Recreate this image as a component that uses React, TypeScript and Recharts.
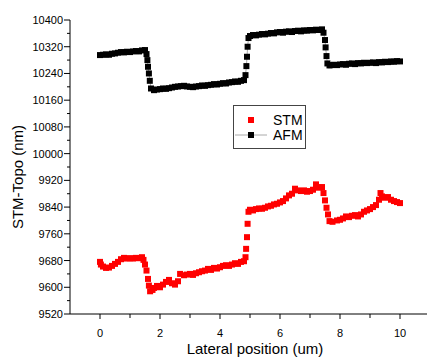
import { ScatterChart, Scatter, XAxis, YAxis } from "recharts";

const stmX = [0, 0.03, 0.1, 0.2, 0.3, 0.4, 0.5, 0.6, 0.7, 0.8, 0.9, 1.0, 1.1, 1.2, 1.3, 1.4, 1.45, 1.5, 1.55, 1.6, 1.63, 1.67, 1.75, 1.8, 1.9, 2.0, 2.1, 2.2, 2.3, 2.4, 2.5, 2.6, 2.67, 2.8, 2.9, 3.0, 3.1, 3.2, 3.3, 3.4, 3.5, 3.6, 3.7, 3.8, 3.9, 4.0, 4.1, 4.2, 4.3, 4.4, 4.5, 4.6, 4.7, 4.8, 4.85, 4.87, 4.9, 4.92, 4.95, 5.0, 5.1, 5.2, 5.3, 5.4, 5.5, 5.6, 5.7, 5.8, 5.9, 6.0, 6.1, 6.2, 6.3, 6.4, 6.5, 6.6, 6.7, 6.8, 6.9, 7.0, 7.1, 7.2, 7.3, 7.4, 7.45, 7.5, 7.55, 7.6, 7.65, 7.75, 7.9, 8.0, 8.1, 8.2, 8.3, 8.4, 8.5, 8.6, 8.7, 8.8, 8.9, 9.0, 9.1, 9.2, 9.3, 9.35, 9.4, 9.5, 9.6, 9.7, 9.8, 9.9, 10.0];
const stmY = [9676, 9668, 9662, 9658, 9659, 9664, 9670, 9676, 9684, 9688, 9686, 9687, 9686, 9688, 9687, 9690, 9682, 9668, 9650, 9625, 9605, 9588, 9592, 9598, 9604, 9600, 9608, 9616, 9622, 9612, 9608, 9618, 9640, 9636, 9638, 9640, 9637, 9642, 9645, 9648, 9650, 9655, 9652, 9658, 9656, 9660, 9664, 9666, 9664, 9668, 9672, 9670, 9676, 9678, 9690, 9715, 9750, 9790, 9826, 9832, 9830, 9834, 9836, 9835, 9838, 9842, 9844, 9848, 9850, 9854, 9858, 9866, 9875, 9880, 9895, 9890, 9888, 9890, 9886, 9888, 9892, 9908, 9898, 9900, 9882, 9860, 9838, 9818, 9798, 9796, 9800, 9802, 9806, 9812, 9810, 9814, 9816, 9812, 9818, 9826, 9830, 9834, 9840, 9846, 9862, 9882, 9872, 9868, 9870, 9862, 9858, 9855, 9852];

const afmX = [0, 0.1, 0.2, 0.3, 0.4, 0.5, 0.6, 0.7, 0.8, 0.9, 1.0, 1.1, 1.2, 1.3, 1.4, 1.5, 1.55, 1.58, 1.6, 1.63, 1.66, 1.7, 1.8, 1.9, 2.0, 2.1, 2.2, 2.3, 2.4, 2.5, 2.6, 2.7, 2.8, 2.9, 3.0, 3.1, 3.2, 3.3, 3.4, 3.5, 3.6, 3.7, 3.8, 3.9, 4.0, 4.1, 4.2, 4.3, 4.4, 4.5, 4.6, 4.7, 4.8, 4.85, 4.88, 4.9, 4.92, 4.95, 5.0, 5.1, 5.2, 5.3, 5.4, 5.5, 5.6, 5.7, 5.8, 5.9, 6.0, 6.1, 6.2, 6.3, 6.4, 6.5, 6.6, 6.7, 6.8, 6.9, 7.0, 7.1, 7.2, 7.3, 7.4, 7.45, 7.5, 7.52, 7.55, 7.58, 7.65, 7.7, 7.8, 7.9, 8.0, 8.1, 8.2, 8.3, 8.4, 8.5, 8.6, 8.7, 8.8, 8.9, 9.0, 9.1, 9.2, 9.3, 9.4, 9.5, 9.6, 9.7, 9.8, 9.9, 10.0];
const afmY = [10295, 10296, 10297, 10296, 10299, 10300, 10302, 10304, 10303, 10305, 10304, 10306, 10307, 10306, 10309, 10310, 10298, 10280, 10260, 10240, 10218, 10195, 10190, 10192, 10193, 10195, 10194, 10196, 10198, 10200, 10201, 10202, 10203, 10201, 10200, 10199, 10201, 10202, 10204, 10203, 10205, 10206, 10208, 10207, 10209, 10211, 10210, 10213, 10214, 10216, 10215, 10218, 10220, 10235, 10262, 10290, 10320, 10346, 10352, 10355, 10354, 10356, 10358, 10357, 10359, 10361, 10360, 10363, 10364, 10362, 10365, 10366, 10364, 10367, 10368, 10366, 10369, 10368, 10370, 10369, 10371, 10370, 10372, 10362, 10340, 10318, 10292, 10270, 10264, 10265, 10266, 10265, 10267, 10268, 10266, 10269, 10270, 10268, 10271, 10270, 10272, 10271, 10272, 10273, 10271, 10274, 10273, 10275, 10274, 10276, 10275, 10277, 10276];

const xTicks = [0, 1, 2, 3, 4, 5, 6, 7, 8, 9, 10];
const yTicks = [9520, 9560, 9600, 9640, 9680, 9720, 9760, 9800, 9840, 9880, 9920, 9960, 10000, 10040, 10080, 10120, 10160, 10200, 10240, 10280, 10320, 10360, 10400];

const stmData = stmX.map((x, i) => ({ x, y: stmY[i] }));
const afmData = afmX.map((x, i) => ({ x, y: afmY[i] }));

const font = "'Liberation Sans', Arial, sans-serif";

const square = (color: string) => (p: any) => (
  <rect x={p.cx - 3} y={p.cy - 3} width={6} height={6} fill={color} />
);

const XTick = (p: any) => {
  const v = p.payload.value;
  const major = v % 2 === 0;
  return (
    <g>
      <line x1={p.x} x2={p.x} y1={p.y} y2={p.y + (major ? 5 : 4)} stroke="#000" />
      {major && (
        <text x={p.x} y={p.y + 23} textAnchor="middle" fontSize={11} fontFamily={font} fill="#000">{v}</text>
      )}
    </g>
  );
};

const YTick = (p: any) => {
  const v = p.payload.value;
  const major = (v - 9520) % 80 === 0;
  return (
    <g>
      <line x1={p.x - (major ? 6 : 3)} x2={p.x} y1={p.y} y2={p.y} stroke="#000" />
      {major && (
        <text x={p.x - 7} y={p.y + 4} textAnchor="end" fontSize={11} fontFamily={font} fill="#000">{v}</text>
      )}
    </g>
  );
};

// legend drawn as an overlay so it doesn't shrink the plot area
const LegendBox = () => (
  <svg width={74} height={45} style={{ position: "absolute", left: 233, top: 105 }}>
    <rect x={0.5} y={0.5} width={72} height={43} fill="#fff" stroke="#444" />
    <rect x={15} y={12} width={6} height={6} fill="#ff0000" />
    <text x={40} y={20} fontSize={14} fontFamily={font} fill="#000">STM</text>
    <line x1={2} x2={34} y1={30} y2={30} stroke="#aaa" />
    <rect x={15} y={27} width={6} height={6} fill="#000" />
    <text x={40} y={35} fontSize={14} fontFamily={font} fill="#000">AFM</text>
  </svg>
);

export default function App() {
  return (
    <div style={{ position: "absolute", left: 0, top: 0, width: 427, height: 358, background: "#fff" }}>
      <ScatterChart width={427} height={358} margin={{ top: 20, right: 0, bottom: 0, left: 0 }}>
        <XAxis
          type="number"
          dataKey="x"
          domain={[-1, 10.9]}
          ticks={xTicks}
          interval={0}
          allowDataOverflow
          height={44}
          tickSize={0}
          tickMargin={0}
          tick={XTick}
          stroke="#000"
          label={{
            content: () => (
              <text x={255} y={354} textAnchor="middle" fontSize={15} fontFamily={font} fill="#000">Lateral position (um)</text>
            ),
          }}
        />
        <YAxis
          type="number"
          dataKey="y"
          domain={[9520, 10400]}
          ticks={yTicks}
          interval={0}
          allowDataOverflow
          width={70}
          tickSize={0}
          tickMargin={0}
          tick={YTick}
          stroke="#000"
          label={{
            content: () => (
              <text transform="translate(23,177) rotate(-90)" textAnchor="middle" fontSize={15} fontFamily={font} fill="#000">STM-Topo (nm)</text>
            ),
          }}
        />
        <Scatter name="STM" data={stmData} fill="#ff0000" shape={square("#ff0000")} isAnimationActive={false} />
        <Scatter
          name="AFM"
          data={afmData}
          fill="#000"
          line={{ stroke: "#aaa", strokeWidth: 1 }}
          shape={square("#000")}
          isAnimationActive={false}
        />
      </ScatterChart>
      <LegendBox />
    </div>
  );
}
